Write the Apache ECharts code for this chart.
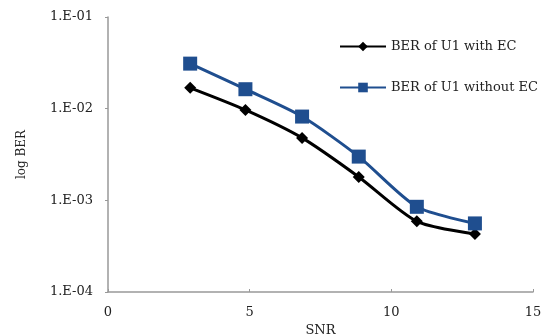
<!DOCTYPE html>
<html><head><meta charset="utf-8">
<script src="https://cdn.jsdelivr.net/npm/echarts@6/dist/echarts.min.js"></script>
<style>html,body{margin:0;padding:0;background:#fff}#c{width:553px;height:335px}</style>
</head><body><div id="c"></div>
<script>
const snr = [2.9, 4.85, 6.85, 8.85, 10.9, 12.95];
const berWithEC = [0.0169, 0.0097, 0.0048, 0.0018, 0.00059, 0.00043];
const berWithoutEC = [0.031, 0.0163, 0.0082, 0.0030, 0.00085, 0.00056];
const seriesNames = ['BER of U1 with EC', 'BER of U1 without EC'];
const font = '"DejaVu Serif", "Liberation Serif", serif';

const chart = echarts.init(document.getElementById('c'));
chart.setOption({
  animation: false,
  backgroundColor: '#fff',
  textStyle: { fontFamily: font },
  grid: { left: 108, right: 20, top: 17, bottom: 43, containLabel: false, outerBoundsMode: 'none' },
  legend: {
    orient: 'vertical', left: 334, top: 35, itemGap: 28,
    itemWidth: 46, itemHeight: 12, itemTextGap: 4,
    textStyle: { fontFamily: font, fontSize: 13, color: '#222' },
    data: seriesNames
  },
  xAxis: {
    type: 'value', min: 0, max: 15, interval: 5,
    name: 'SNR', nameLocation: 'middle', nameGap: 32,
    nameTextStyle: { fontFamily: font, fontSize: 13, color: '#222' },
    axisLine: { lineStyle: { color: '#999', width: 1.5 } },
    axisTick: { show: true, inside: true, length: 3, lineStyle: { color: '#999' } },
    axisLabel: { fontFamily: font, fontSize: 13, color: '#222', margin: 14 },
    splitLine: { show: false }
  },
  yAxis: {
    type: 'log', logBase: 10, min: 0.0001, max: 0.1,
    name: 'log BER', nameLocation: 'middle', nameGap: 80, nameRotate: 90,
    nameTextStyle: { fontFamily: font, fontSize: 12, color: '#222' },
    axisLine: { show: true, lineStyle: { color: '#999', width: 1.5 } },
    axisTick: { show: true, length: 3, lineStyle: { color: '#999' } },
    axisLabel: {
      fontFamily: font, fontSize: 13, color: '#222', margin: 15,
      formatter: v => { const e = Math.round(Math.log10(v)); return '1.E' + (e < 0 ? '-' : '+') + String(Math.abs(e)).padStart(2, '0'); }
    },
    splitLine: { show: false }
  },
  series: [
    {
      name: seriesNames[0], type: 'line', smooth: 0.25,
      data: snr.map((x, i) => [x, berWithEC[i]]),
      symbol: 'diamond', symbolSize: 12,
      lineStyle: { color: '#000', width: 3 },
      itemStyle: { color: '#000' }
    },
    {
      name: seriesNames[1], type: 'line', smooth: 0.25,
      data: snr.map((x, i) => [x, berWithoutEC[i]]),
      symbol: 'rect', symbolSize: 14,
      lineStyle: { color: '#1F4E8F', width: 3 },
      itemStyle: { color: '#1F4E8F' }
    }
  ]
});
</script></body></html>
